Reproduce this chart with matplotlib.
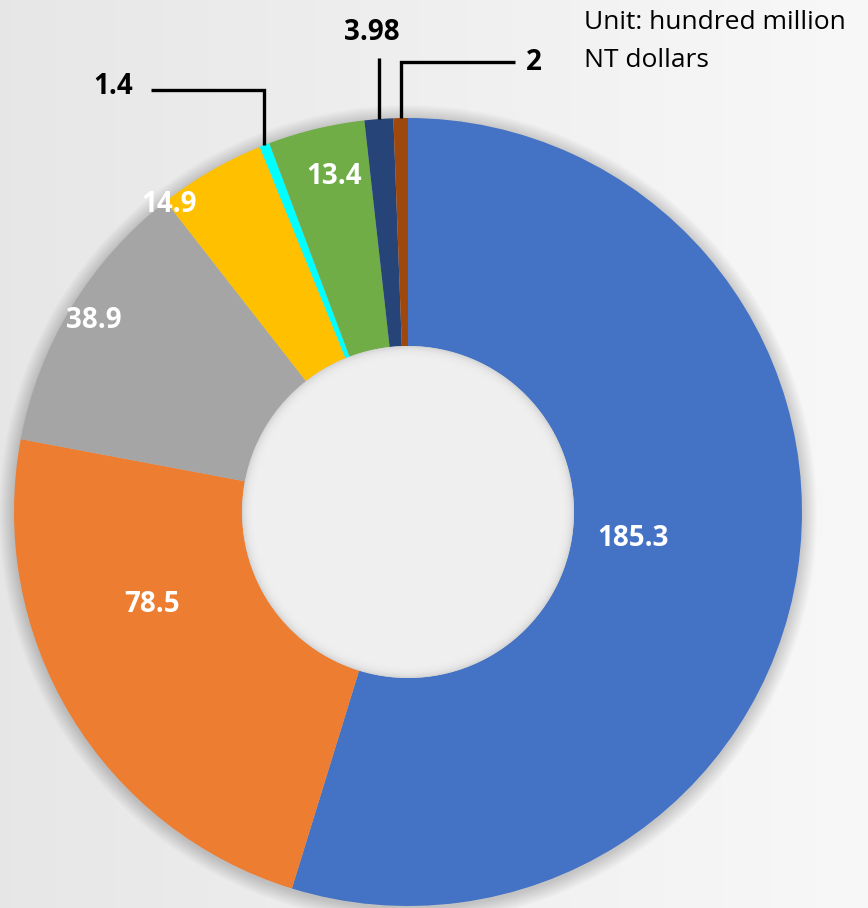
import numpy as np
import matplotlib
matplotlib.use("Agg")
from matplotlib import pyplot as plt
from matplotlib.patches import Circle

plt.rcParams['font.family'] = ['Open Sans', 'DejaVu Sans']

# data, clockwise from the top
values = [185.3, 78.5, 38.9, 14.9, 1.4, 13.4, 3.98, 2]
labels = ["185.3", "78.5", "38.9", "14.9", "1.4", "13.4", "3.98", "2"]
colors = ["#4472C4", "#ED7D31", "#A5A5A5", "#FFC000", "#00FFFF",
          "#70AD47", "#264478", "#9E480E"]
unit_text = ["Unit: hundred million", "NT dollars"]

W, H = 868, 908
fig = plt.figure(figsize=(W / 100, H / 100), dpi=100)
ax = fig.add_axes([0, 0, 1, 1])

cx, cy = 408, H - 512
R = 394
hole = 166

wedges, _ = ax.pie(values, colors=colors, startangle=90, counterclock=False,
                   radius=R, center=(cx, cy),
                   wedgeprops=dict(width=R - hole, linewidth=0))
for w in wedges:
    w.set_zorder(2)

# background gradient, darker on the left (rgb array, no banding)
g = np.linspace(0.905, 0.972, 400)
bg = np.dstack([np.tile(g, (20, 1))] * 3)
ax.imshow(bg, extent=(0, W, 0, H), aspect="auto", interpolation="bilinear",
          zorder=0)

# pie resets the limits, so set them afterwards
ax.set_xlim(0, W)
ax.set_ylim(0, H)
ax.set_aspect("equal")
ax.axis("off")

# soft shadow round the ring
for k in range(1, 16):
    ax.add_patch(Circle((cx, cy - 2), R + k, color="black", alpha=0.012,
                        lw=0, zorder=1))

# hole with inner shading
ax.add_patch(Circle((cx, cy), hole, color="#d6d6d6", lw=0, zorder=3))
for k in range(1, 20):
    ax.add_patch(Circle((cx, cy), hole - k, color="#f4f4f4", alpha=0.2,
                        lw=0, zorder=3))

# label centres (image pixels, y down) and leader targets
label_xy = [(633, 538), (152, 604), (94, 321), (169, 204),
            (113, 87), (334, 177), (372, 32), (534, 62)]
outside = {4: (90, 151), 6: (58, None), 7: (62, 515)}

for i, (w, lab) in enumerate(zip(wedges, labels)):
    x, y = label_xy[i]
    col = "black" if i in outside else "white"
    ax.text(x, H - y, lab, ha="center", va="center", fontsize=20,
            fontweight="bold", color=col, zorder=5)
    if i in outside:
        mid = np.deg2rad((w.theta1 + w.theta2) / 2)
        px = cx + R * np.cos(mid)
        py = cy + R * np.sin(mid)
        ly, lx = outside[i]
        xs = [px, px]
        ys = [py, H - ly]
        if lx is not None:
            xs.append(lx)
            ys.append(H - ly)
        ax.plot(xs, ys, color="black", lw=2.4, solid_capstyle="butt",
                solid_joinstyle="miter", zorder=4)

ax.text(584, H - 29, unit_text[0], ha="left", va="baseline", fontsize=19,
        color="black", zorder=5)
ax.text(584, H - 67, unit_text[1], ha="left", va="baseline", fontsize=19,
        color="black", zorder=5)

fig.savefig("out.png", dpi=100)
